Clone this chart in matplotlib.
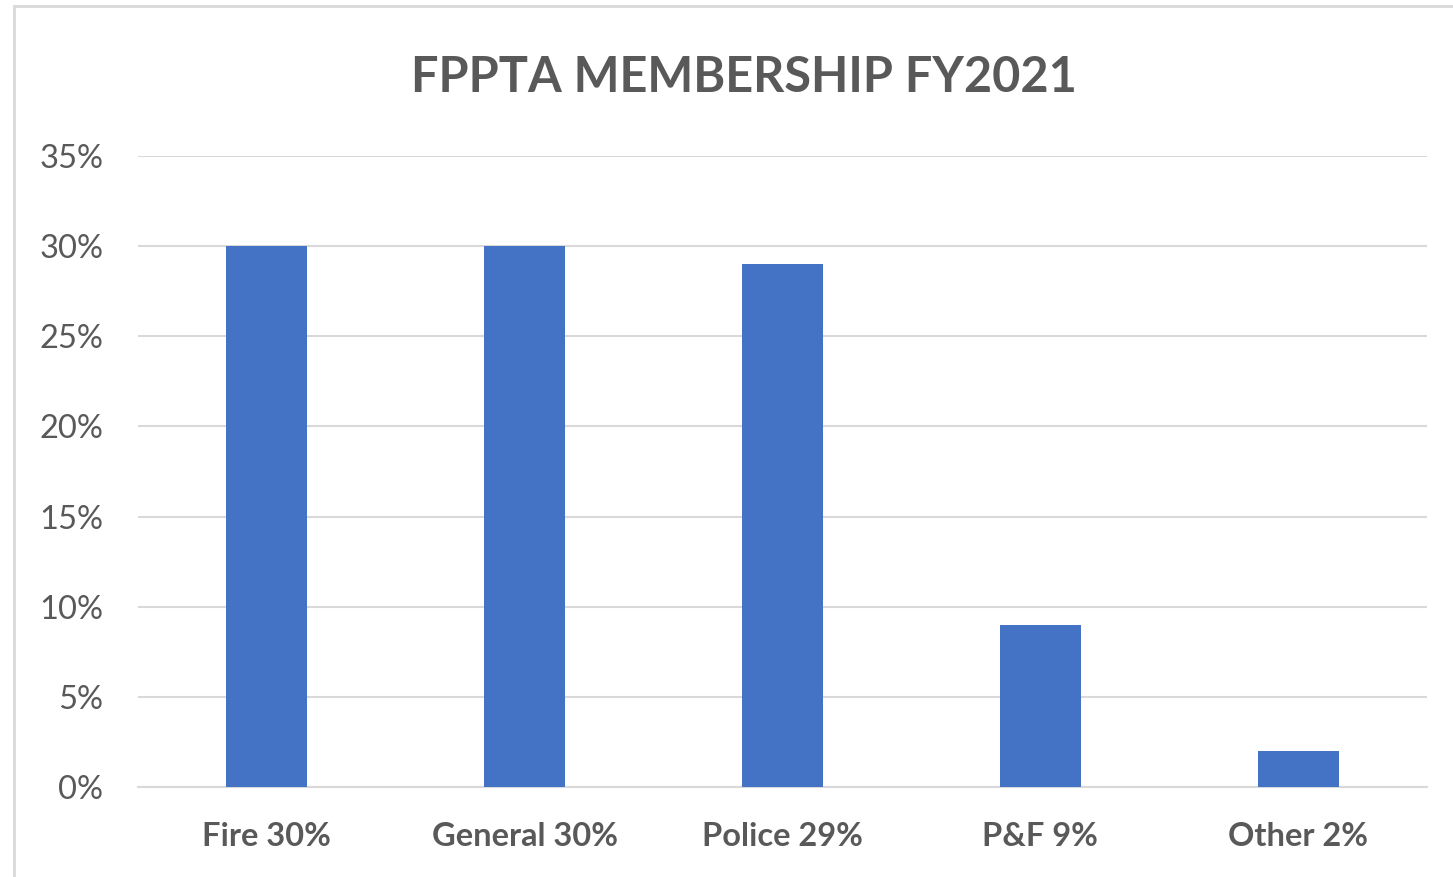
import matplotlib
matplotlib.use("Agg")
import matplotlib.pyplot as plt
from matplotlib.patches import Rectangle
from matplotlib.ticker import PercentFormatter

categories = ["Fire 30%", "General 30%", "Police 29%", "P&F 9%", "Other 2%"]
shares = [0.30, 0.30, 0.29, 0.09, 0.02]
yticks = [0, 0.05, 0.10, 0.15, 0.20, 0.25, 0.30, 0.35]

plt.rcParams['font.family'] = ['Lato', 'DejaVu Sans']

fig = plt.figure(figsize=(14.53, 8.77), dpi=100)
ax = fig.add_axes([0.0950, 0.1026, 0.8871, 0.7195])

x = range(len(categories))
ax.bar(x, shares, width=0.314, color="#4472C4", zorder=3)

ax.set_xlim(-0.5, len(categories) - 0.5)
ax.set_ylim(0, 0.35)
ax.set_yticks(yticks)
ax.yaxis.set_major_formatter(PercentFormatter(1.0, decimals=0))
ax.set_xticks(list(x))
ax.set_xticklabels(categories, fontweight="bold")

ax.grid(axis="y", color="#d9d9d9", linewidth=1.5, zorder=0)
for s in ["top", "right", "left"]:
    ax.spines[s].set_visible(False)
ax.spines["bottom"].set_color("#d9d9d9")
ax.spines["bottom"].set_linewidth(1.5)
ax.tick_params(axis="both", length=0, colors="#595959", labelsize=23.5)
ax.tick_params(axis="y", pad=25)
ax.tick_params(axis="x", pad=25)

fig.text(0.512, 0.895, "FPPTA MEMBERSHIP FY2021", ha="center", va="baseline",
         fontsize=35, fontweight="bold", color="#595959")

# chart frame
fig.patches.append(Rectangle((14 / 1453, -0.1), 1.5, 1.1 - 6 / 877, transform=fig.transFigure,
                             fill=False, edgecolor="#d9d9d9", linewidth=2))

fig.savefig("out.png", dpi=100)
